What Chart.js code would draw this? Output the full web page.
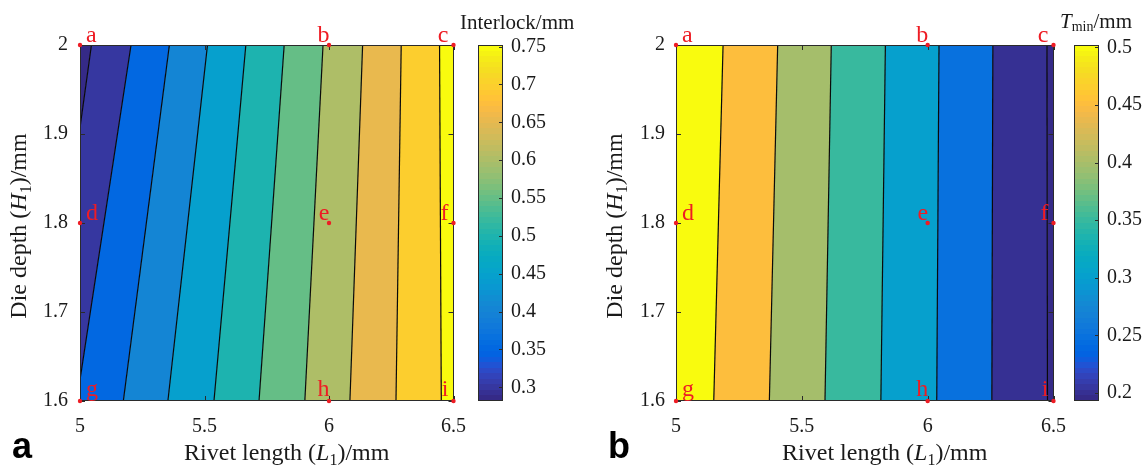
<!DOCTYPE html>
<html>
<head>
<meta charset="utf-8">
<title>Interlock and Tmin contour maps</title>
<script src="https://cdn.jsdelivr.net/npm/chart.js@4.4.1/dist/chart.umd.min.js"></script>
<style>
  html, body { margin: 0; padding: 0; background: #ffffff; }
  #wrap { position: relative; width: 1146px; height: 465px; overflow: hidden; background: #ffffff; }
  #wrap canvas { position: absolute; top: 0; }
</style>
</head>
<body>
<div id="wrap">
  <canvas id="mapA" width="480" height="465" style="left:0px;width:480px;height:465px"></canvas>
  <canvas id="barA" width="120" height="465" style="left:455px;width:120px;height:465px"></canvas>
  <canvas id="mapB" width="505" height="465" style="left:575px;width:505px;height:465px"></canvas>
  <canvas id="barB" width="96" height="465" style="left:1050px;width:96px;height:465px"></canvas>
</div>
<script>
// ---- axes ----
const rivetLengthRange = [5, 6.5];
const dieDepthRange = [1.6, 2];
const rivetLengthTicks = [5, 5.5, 6, 6.5];
const dieDepthTicks = [1.6, 1.7, 1.8, 1.9, 2];

// ---- (a) interlock: contour levels and the rivet length where each level meets H1 = 1.6 / H1 = 2.0 ----
const interlockLevels = [0.3, 0.35, 0.4, 0.45, 0.5, 0.55, 0.6, 0.65, 0.7, 0.75];
const interlockAtH16 = [4.848, 4.987, 5.174, 5.353, 5.538, 5.719, 5.903, 6.084, 6.269, 6.451];
const interlockAtH20 = [5.046, 5.205, 5.359, 5.512, 5.666, 5.820, 5.976, 6.135, 6.290, 6.444];
const interlockLimits = [0.282, 0.752];
const interlockTicks = [0.3, 0.35, 0.4, 0.45, 0.5, 0.55, 0.6, 0.65, 0.7, 0.75];

// ---- (b) minimum thickness Tmin ----
const tminLevels = [0.5, 0.45, 0.4, 0.35, 0.3, 0.25, 0.2];
const tminAtH16 = [5.150, 5.371, 5.592, 5.814, 6.036, 6.255, 6.476];
const tminAtH20 = [5.187, 5.404, 5.617, 5.832, 6.045, 6.259, 6.474];
const tminLimits = [0.193, 0.502];
const tminTicks = [0.2, 0.25, 0.3, 0.35, 0.4, 0.45, 0.5];

// ---- design points ----
const pointNames = ['a', 'b', 'c', 'd', 'e', 'f', 'g', 'h', 'i'];
const pointL = [5, 6, 6.5, 5, 6, 6.5, 5, 6, 6.5];
const pointH = [2, 2, 2, 1.8, 1.8, 1.8, 1.6, 1.6, 1.6];

// ---- styling ----
const SERIF = '"Liberation Serif", "Times New Roman", serif';
const SANS = '"Liberation Sans", Arial, sans-serif';
const INK = '#1a1a1a';
const MARK_RED = '#ee1c24';

// parula colormap, 64 entries
const parula = [
  [0.2081,0.1663,0.5292],[0.2116,0.1898,0.5777],[0.2123,0.2138,0.6270],[0.2081,0.2386,0.6771],
  [0.1959,0.2645,0.7279],[0.1707,0.2919,0.7792],[0.1253,0.3242,0.8303],[0.0591,0.3598,0.8683],
  [0.0117,0.3875,0.8820],[0.0060,0.4086,0.8828],[0.0165,0.4266,0.8786],[0.0329,0.4430,0.8720],
  [0.0498,0.4586,0.8641],[0.0629,0.4737,0.8554],[0.0723,0.4887,0.8467],[0.0779,0.5040,0.8384],
  [0.0793,0.5200,0.8312],[0.0749,0.5375,0.8263],[0.0641,0.5570,0.8240],[0.0488,0.5772,0.8228],
  [0.0343,0.5966,0.8199],[0.0265,0.6137,0.8135],[0.0239,0.6287,0.8038],[0.0231,0.6418,0.7913],
  [0.0228,0.6535,0.7768],[0.0267,0.6642,0.7607],[0.0384,0.6743,0.7436],[0.0590,0.6838,0.7254],
  [0.0843,0.6928,0.7062],[0.1133,0.7015,0.6859],[0.1453,0.7098,0.6646],[0.1801,0.7177,0.6424],
  [0.2178,0.7250,0.6193],[0.2586,0.7317,0.5954],[0.3022,0.7376,0.5712],[0.3482,0.7424,0.5473],
  [0.3953,0.7459,0.5244],[0.4420,0.7481,0.5033],[0.4871,0.7491,0.4840],[0.5300,0.7491,0.4661],
  [0.5709,0.7485,0.4494],[0.6099,0.7473,0.4337],[0.6473,0.7456,0.4188],[0.6834,0.7435,0.4044],
  [0.7184,0.7411,0.3905],[0.7525,0.7384,0.3768],[0.7858,0.7356,0.3633],[0.8185,0.7327,0.3498],
  [0.8507,0.7299,0.3360],[0.8824,0.7274,0.3217],[0.9139,0.7258,0.3063],[0.9450,0.7261,0.2886],
  [0.9739,0.7314,0.2666],[0.9938,0.7455,0.2403],[0.9990,0.7653,0.2164],[0.9955,0.7861,0.1967],
  [0.9880,0.8066,0.1794],[0.9789,0.8271,0.1633],[0.9697,0.8481,0.1475],[0.9626,0.8705,0.1309],
  [0.9589,0.8949,0.1132],[0.9598,0.9218,0.0948],[0.9661,0.9514,0.0755],[0.9763,0.9831,0.0538]
];
const rgb = c => `rgb(${Math.round(c[0] * 255)},${Math.round(c[1] * 255)},${Math.round(c[2] * 255)})`;

function colorFor(v, limits) {
  const n = parula.length;
  let i = Math.floor((v - limits[0]) / (limits[1] - limits[0]) * n);
  i = Math.max(0, Math.min(n - 1, i));
  return rgb(parula[i]);
}

function parulaGradient(ctx, area) {
  const g = ctx.createLinearGradient(0, area.bottom, 0, area.top);
  const n = parula.length;
  parula.forEach((c, i) => {
    g.addColorStop(i / n, rgb(c));
    g.addColorStop((i + 1) / n, rgb(c));
  });
  return g;
}

// filled-contour colour of each band: the lower level bounding it (colour-axis minimum below the lowest level)
function bandValues(levels, cmin) {
  const rising = levels[1] > levels[0];
  const vals = [];
  for (let k = 0; k <= levels.length; k++) {
    const left = levels[k - 1], right = levels[k];
    if (left !== undefined && right !== undefined) vals.push(Math.min(left, right));
    else if (left === undefined) vals.push(rising ? cmin : right);
    else vals.push(rising ? left : cmin);
  }
  return vals;
}

// draws a run of text pieces with different fonts / baseline shifts
function drawParts(ctx, parts, x, y, align, rotated, color) {
  ctx.save();
  let w = 0;
  parts.forEach(p => { ctx.font = p.f; p.w = ctx.measureText(p.t).width; w += p.w; });
  ctx.translate(x, y);
  if (rotated) ctx.rotate(-Math.PI / 2);
  let cx = align === 'center' ? -w / 2 : (align === 'right' ? -w : 0);
  ctx.textAlign = 'left';
  ctx.textBaseline = 'alphabetic';
  ctx.fillStyle = color || INK;
  parts.forEach(p => { ctx.font = p.f; ctx.fillText(p.t, cx, p.dy || 0); cx += p.w; });
  ctx.restore();
}

const tickFont = { family: SERIF, size: 20 };
const asTicks = arr => scale => { scale.ticks = arr.map(v => ({ value: v })); };

function contourChart(id, cfg) {
  const { atH16, atH20, levels, limits, yAxisWidth, yTickPad, padRight, letter } = cfg;
  const vals = bandValues(levels, limits[0]);
  const n = levels.length;
  const farLeft = rivetLengthRange[0] - 1, farRight = rivetLengthRange[1] + 1;
  const [h0, h1] = dieDepthRange;
  const datasets = [];

  for (let k = 0; k <= n; k++) {
    const lb = k === 0 ? farLeft : atH16[k - 1];
    const lt = k === 0 ? farLeft : atH20[k - 1];
    const rb = k === n ? farRight : atH16[k];
    const rt = k === n ? farRight : atH20[k];
    datasets.push({
      data: [{ x: lb, y: h0 }, { x: lt, y: h1 }, { x: rt, y: h1 }, { x: rb, y: h0 }],
      fill: 'shape',
      backgroundColor: colorFor(vals[k], limits),
      borderColor: 'rgba(0,0,0,0)',
      borderWidth: 0,
      pointRadius: 0,
      order: 3
    });
  }
  for (let k = 0; k < n; k++) {
    datasets.push({
      data: [{ x: atH16[k], y: h0 }, { x: atH20[k], y: h1 }],
      fill: false,
      borderColor: '#0a0a0a',
      borderWidth: 1.2,
      pointRadius: 0,
      order: 2
    });
  }
  const pointsIndex = datasets.length;
  datasets.push({
    data: pointL.map((x, i) => ({ x, y: pointH[i] })),
    showLine: false,
    pointRadius: 2.2,
    pointBackgroundColor: MARK_RED,
    pointBorderWidth: 0,
    clip: false,
    order: 1
  });

  const frame = {
    id: 'frame' + id,
    beforeDatasetDraw(chart, args) {
      if (args.index !== pointsIndex) return;
      const { ctx, chartArea: a, scales: { x, y } } = chart;
      ctx.save();
      ctx.strokeStyle = '#2b2b2b';
      ctx.lineWidth = 1;
      ctx.beginPath();
      rivetLengthTicks.forEach(v => {
        const px = Math.round(x.getPixelForValue(v)) + 0.5;
        ctx.moveTo(px, a.bottom); ctx.lineTo(px, a.bottom - 5);
        ctx.moveTo(px, a.top); ctx.lineTo(px, a.top + 5);
      });
      dieDepthTicks.forEach(v => {
        const py = Math.round(y.getPixelForValue(v)) + 0.5;
        ctx.moveTo(a.left, py); ctx.lineTo(a.left + 5, py);
        ctx.moveTo(a.right, py); ctx.lineTo(a.right - 5, py);
      });
      ctx.stroke();
      ctx.strokeRect(Math.round(a.left) + 0.5, Math.round(a.top) + 0.5,
        Math.round(a.right - a.left) - 1, Math.round(a.bottom - a.top) - 1);
      ctx.restore();
    }
  };

  const texts = {
    id: 'texts' + id,
    afterDraw(chart) {
      const { ctx, chartArea: a } = chart;
      const f = s => `${s}px ${SERIF}`;
      const fi = s => `italic ${s}px ${SERIF}`;
      // x-axis title
      drawParts(ctx, [
        { t: 'Rivet length (', f: f(24) },
        { t: 'L', f: fi(24) },
        { t: '1', f: f(16), dy: 5 },
        { t: ')/mm', f: f(24) }
      ], (a.left + a.right) / 2 + 20, 460, 'center', false);
      // y-axis title
      drawParts(ctx, [
        { t: 'Die depth (', f: f(24) },
        { t: 'H', f: fi(24) },
        { t: '1', f: f(16), dy: 5 },
        { t: ')/mm', f: f(24) }
      ], a.left - 54, (a.top + a.bottom) / 2 + 3, 'center', true);
      // panel letter
      drawParts(ctx, [{ t: letter, f: `bold 36px ${SANS}` }], a.left - 68, 458, 'left', false, '#000000');
      // design point names
      const meta = chart.getDatasetMeta(pointsIndex);
      meta.data.forEach((el, i) => {
        const xv = pointL[i], yv = pointH[i];
        let x = el.x, align = 'right';
        if (xv === rivetLengthRange[0]) { x += 6; align = 'left'; }
        else if (xv === rivetLengthRange[1]) { x -= 5; }
        else { x += 0.5; }
        const y = el.y - (yv === dieDepthRange[0] ? 5 : 3);
        drawParts(ctx, [{ t: pointNames[i], f: f(24) }], x, y, align, false, MARK_RED);
      });
    }
  };

  return new Chart(document.getElementById(id), {
    type: 'line',
    data: { datasets },
    options: {
      responsive: false,
      animation: false,
      devicePixelRatio: 1,
      events: [],
      layout: { padding: { top: 45, right: padRight, left: 0, bottom: 0 } },
      plugins: { legend: { display: false }, tooltip: { enabled: false }, title: { display: false } },
      scales: {
        x: {
          type: 'linear',
          min: rivetLengthRange[0], max: rivetLengthRange[1],
          afterBuildTicks: asTicks(rivetLengthTicks),
          afterFit: s => { s.height = 64; },
          grid: { display: false, drawTicks: false },
          border: { display: false },
          ticks: { font: tickFont, color: INK, padding: 14, maxRotation: 0, autoSkip: false, callback: v => String(v) }
        },
        y: {
          type: 'linear',
          min: dieDepthRange[0], max: dieDepthRange[1],
          afterBuildTicks: asTicks(dieDepthTicks),
          afterFit: s => { s.width = yAxisWidth; },
          grid: { display: false, drawTicks: false },
          border: { display: false },
          ticks: { font: tickFont, color: INK, padding: yTickPad, autoSkip: false, callback: v => String(v) }
        }
      }
    },
    plugins: [frame, texts]
  });
}

function colorbarChart(id, cfg) {
  const { limits, ticks, padLeft, axisWidth, titleParts, titleX, titleY } = cfg;
  const frame = {
    id: 'cbframe' + id,
    afterDatasetsDraw(chart) {
      const { ctx, chartArea: a, scales: { y } } = chart;
      ctx.save();
      ctx.strokeStyle = '#2b2b2b';
      ctx.lineWidth = 1;
      ctx.beginPath();
      ticks.forEach(v => {
        const py = Math.round(y.getPixelForValue(v)) + 0.5;
        ctx.moveTo(a.right, py); ctx.lineTo(a.right - 4, py);
      });
      ctx.stroke();
      ctx.strokeRect(Math.round(a.left) + 0.5, Math.round(a.top) + 0.5,
        Math.round(a.right - a.left) - 1, Math.round(a.bottom - a.top) - 1);
      ctx.restore();
    },
    afterDraw(chart) {
      drawParts(chart.ctx, titleParts, titleX, titleY, 'left', false);
    }
  };
  return new Chart(document.getElementById(id), {
    type: 'bar',
    data: {
      labels: [''],
      datasets: [{
        data: [[limits[0], limits[1]]],
        backgroundColor: c => {
          const ch = c.chart;
          if (!ch.chartArea) return 'rgba(0,0,0,0)';
          return parulaGradient(ch.ctx, ch.chartArea);
        },
        borderWidth: 0,
        borderSkipped: false,
        barPercentage: 1,
        categoryPercentage: 1
      }]
    },
    options: {
      responsive: false,
      animation: false,
      devicePixelRatio: 1,
      events: [],
      layout: { padding: { left: padLeft, top: 45, bottom: 64, right: 0 } },
      plugins: { legend: { display: false }, tooltip: { enabled: false } },
      scales: {
        x: { display: false },
        y: {
          position: 'right',
          min: limits[0], max: limits[1],
          afterBuildTicks: asTicks(ticks),
          afterFit: s => { s.width = axisWidth; },
          grid: { display: false, drawTicks: false },
          border: { display: false },
          ticks: { font: tickFont, color: INK, padding: 8, autoSkip: false, callback: v => String(v) }
        }
      }
    },
    plugins: [frame]
  });
}

contourChart('mapA', {
  atH16: interlockAtH16, atH20: interlockAtH20, levels: interlockLevels, limits: interlockLimits,
  yAxisWidth: 80, yTickPad: 12, padRight: 21, letter: 'a'
});
colorbarChart('barA', {
  limits: interlockLimits, ticks: interlockTicks, padLeft: 23, axisWidth: 72,
  titleParts: [{ t: 'Interlock/mm', f: `21px ${SERIF}` }], titleX: 5, titleY: 29
});
contourChart('mapB', {
  atH16: tminAtH16, atH20: tminAtH20, levels: tminLevels, limits: tminLimits,
  yAxisWidth: 101, yTickPad: 11, padRight: 24, letter: 'b'
});
colorbarChart('barB', {
  limits: tminLimits, ticks: tminTicks, padLeft: 24, axisWidth: 47,
  titleParts: [
    { t: 'T', f: `italic 21px ${SERIF}` },
    { t: 'min', f: `14px ${SERIF}`, dy: 3 },
    { t: '/mm', f: `21px ${SERIF}` }
  ], titleX: 10, titleY: 28
});
</script>
</body>
</html>
